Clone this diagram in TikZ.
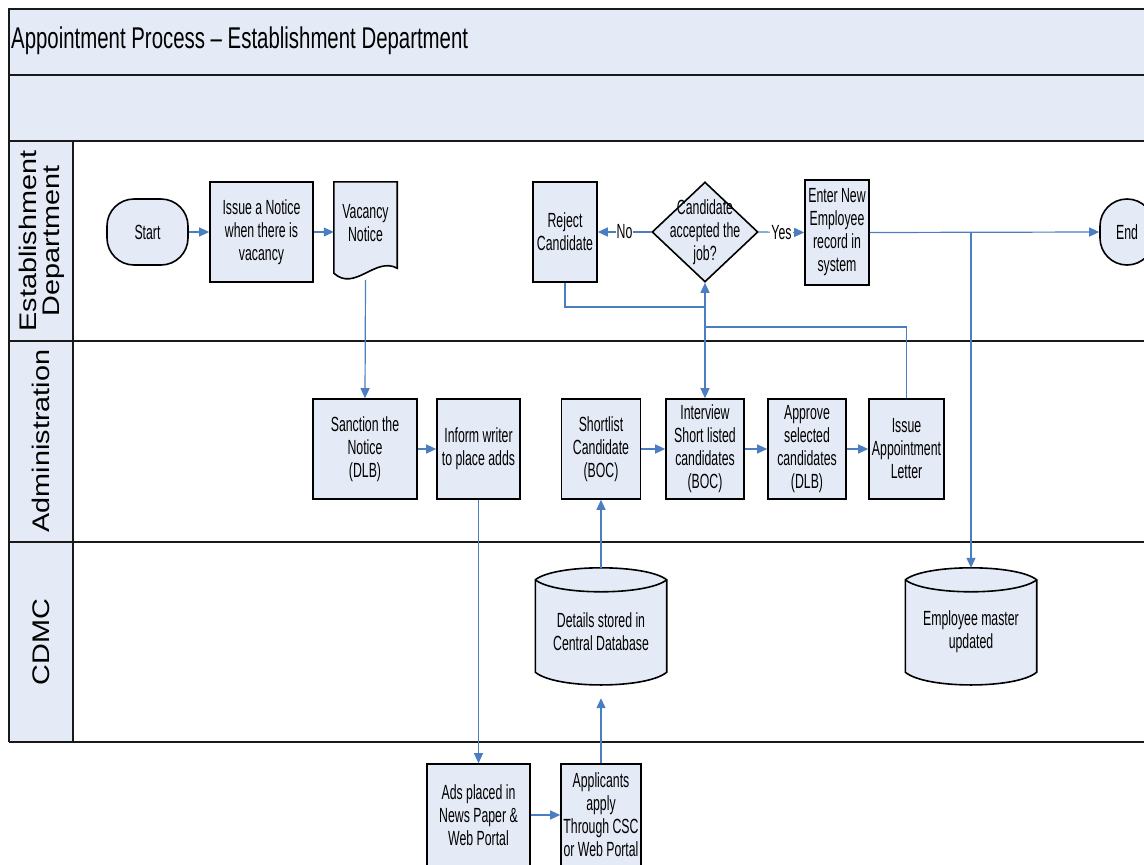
\documentclass[tikz,border=0pt]{standalone}
\usepackage{fontspec}
\setmainfont{Liberation Sans}
\newfontfamily\bodyfont{Liberation Sans}[FakeStretch=0.6]
\newfontfamily\titlefont{Liberation Sans}[FakeStretch=0.68]
\newfontfamily\lanefont{Liberation Sans}[FakeStretch=1.2]
\usetikzlibrary{shapes.geometric,arrows.meta}

\definecolor{paneblue}{RGB}{229,235,246}
\definecolor{flowblue}{RGB}{74,126,193}
\definecolor{framegray}{RGB}{25,25,25}

% outline of a data store drawn around a plain named node
\newcommand{\cylout}[1]{%
  \filldraw[outline]
    ([yshift=-12pt]#1.north west)
      .. controls ([xshift=20pt,yshift=4pt]#1.north west) and ([xshift=-20pt,yshift=4pt]#1.north east) ..
    ([yshift=-12pt]#1.north east) -- ([yshift=13pt]#1.south east)
      .. controls ([xshift=-20pt,yshift=-4pt]#1.south east) and ([xshift=20pt,yshift=-4pt]#1.south west) ..
    ([yshift=13pt]#1.south west) -- cycle;
  \draw[outline]
    ([yshift=-12pt]#1.north west)
      .. controls ([xshift=20pt,yshift=-28pt]#1.north west) and ([xshift=-20pt,yshift=-28pt]#1.north east) ..
    ([yshift=-12pt]#1.north east);}

\begin{document}
\begin{tikzpicture}[x=1pt,y=-1pt,
  every node/.style={font=\bodyfont\fontsize{20.5}{23}\selectfont, align=center, inner sep=0pt},
  outline/.style={draw=black, line width=1.6pt, fill=paneblue},
  procbox/.style={outline, minimum height=100pt},
  termbox/.style={outline, minimum width=81pt, minimum height=66pt, rounded corners=27pt},
  decbox/.style={outline, diamond, minimum width=106pt, minimum height=100pt},
  plain/.style={draw=none, fill=none},
  lanerule/.style={draw=framegray, line width=2pt},
  lanelabel/.style={font=\lanefont\fontsize{24}{23}\selectfont, rotate=90},
  flow/.style={draw=flowblue, line width=1.2pt, -{Triangle[length=10pt,width=9pt]}},
  lbl/.style={fill=white, inner sep=1pt}
]
\useasboundingbox (0,0) rectangle (1144,865);

% ---- swimlane frame ----
\fill[paneblue] (9,9) rectangle (1160,141);
\fill[paneblue] (9,141) rectangle (73,742);
\draw[lanerule] (9,742) -- (9,9) -- (1160,9);
\foreach \yy in {75,141,341,542,742} \draw[lanerule] (9,\yy) -- (1160,\yy);
\draw[lanerule] (73,141) -- (73,742);

\node[font=\titlefont\fontsize{30}{32}\selectfont, anchor=west] (title) at (11,41) {Appointment Process – Establishment Department};

\node[lanelabel] (laneEst) at (42,241) {Establishment\\Department};
\node[lanelabel] (laneAdm) at (41,441) {Administration};
\node[lanelabel] (laneCdmc) at (41,642) {CDMC};

% ---- Establishment Department ----
\node[termbox] (start) at (147.5,232) {Start};
\node[procbox, minimum width=103pt] (notice) at (261.5,232) {Issue a Notice\\when there is\\vacancy};
\node[plain, minimum width=63pt, minimum height=98pt] (vac) at (365.5,231) {};
\filldraw[outline] (vac.north west) -- (vac.north east) -- ([yshift=12pt]vac.south east)
  .. controls ([xshift=-22pt,yshift=24pt]vac.south east) and ([xshift=21pt,yshift=-12pt]vac.south west) ..
  ([yshift=7pt]vac.south west) -- cycle;
\node (vactext) at ([yshift=8pt]vac.center) {Vacancy\\Notice};

\node[procbox, minimum width=64pt] (reject) at (565,232) {Reject\\Candidate};
\node[decbox] (decide) at (705,232) {};
\node (decidetext) at (705,232) {Candidate\\accepted the\\job?};
\node[procbox, minimum width=64pt, minimum height=105pt] (enter) at (837,232.5) {Enter New\\Employee\\record in\\system};
\node[termbox, minimum width=54pt] (finish) at (1127,232) {End};

% ---- Administration ----
\node[procbox, minimum width=104pt] (sanction) at (365,449) {Sanction the\\Notice\\(DLB)};
\node[procbox, minimum width=83pt] (inform) at (478.5,449) {Inform writer\\to place adds};
\node[procbox, minimum width=79pt] (shortlist) at (601,449) {Shortlist\\Candidate\\(BOC)};
\node[procbox, minimum width=78pt] (interview) at (705,449) {Interview\\Short listed\\candidates\\(BOC)};
\node[procbox, minimum width=78pt] (approve) at (807,449) {Approve\\selected\\candidates\\(DLB)};
\node[procbox, minimum width=75pt] (letter) at (906.5,449) {Issue\\Appointment\\Letter};

% ---- CDMC ----
\node[plain, minimum width=131pt, minimum height=117pt] (details) at (601,626.5) {};
\cylout{details}
\node (detailstext) at ([yshift=-5pt]details.center) {Details stored in\\Central Database};
\node[plain, minimum width=131pt, minimum height=117pt] (master) at (971,626.5) {};
\cylout{master}
\node (mastertext) at ([yshift=-5pt]master.center) {Employee master\\updated};

% ---- outside the lanes ----
\node[procbox, minimum width=103pt, minimum height=102pt] (ads) at (478.5,815) {Ads placed in\\News Paper \&\\Web Portal};
\node[procbox, minimum width=80pt, minimum height=102pt] (apply) at (601,815) {Applicants\\apply\\Through CSC\\or Web Portal};

% ---- connectors ----
\coordinate (rejoin) at (705,307);
\coordinate (back) at (705,327);
\coordinate (split) at (971,232);

\draw[flow] (start) -- (notice);
\draw[flow] (notice) -- (vac.west |- notice.east);
\draw[flow] (vac.south) -- (sanction.north);
\draw[flow] (sanction) -- (inform);
\draw[flow] (inform.south) -- (ads.north);
\draw[flow] (ads) -- (apply);
\draw[flow] (apply.north) -- ([yshift=-13pt]details.south);
\draw[flow] (details.north) -- (shortlist.south);
\draw[flow] (shortlist) -- (interview);
\draw[flow] (interview) -- (approve);
\draw[flow] (approve) -- (letter);
\draw[flow] (letter.north) |- (back) -- (decide.south);
\draw[flow] (reject.south) |- (rejoin) -- (interview.north);
\draw[flow] (decide.west) -- node[lbl] {No} (reject.east);
\draw[flow] (decide.east) -- node[lbl] {Yes} (enter.west);
\draw[flow] (enter.east) -- (finish.west);
\draw[flow] (split) -- (master.north);
\end{tikzpicture}
\end{document}
